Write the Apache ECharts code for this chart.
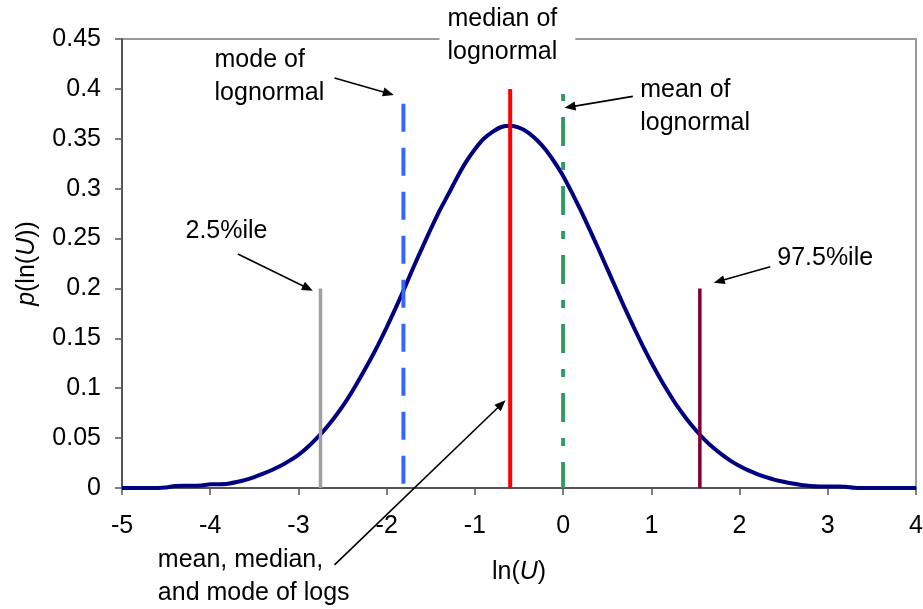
<!DOCTYPE html>
<html>
<head>
<meta charset="utf-8">
<title>Distribution of ln(U)</title>
<script src="https://cdn.jsdelivr.net/npm/echarts@6/dist/echarts.min.js"></script>
<style>
  html, body { margin: 0; padding: 0; background: #ffffff; }
  #chart { width: 923px; height: 609px; }
</style>
</head>
<body>
<div id="chart"></div>
<script>
// Density of ln(U), sampled every 0.1
const lnU = [
  -5.0, -4.9, -4.8, -4.7, -4.6, -4.5, -4.4, -4.3, -4.2, -4.1,
  -4.0, -3.9, -3.8, -3.7, -3.6, -3.5, -3.4, -3.3, -3.2, -3.1,
  -3.0, -2.9, -2.8, -2.7, -2.6, -2.5, -2.4, -2.3, -2.2, -2.1,
  -2.0, -1.9, -1.8, -1.7, -1.6, -1.5, -1.4, -1.3, -1.2, -1.1,
  -1.0, -0.9, -0.8, -0.7, -0.6, -0.5, -0.4, -0.3, -0.2, -0.1,
   0.0,  0.1,  0.2,  0.3,  0.4,  0.5,  0.6,  0.7,  0.8,  0.9,
   1.0,  1.1,  1.2,  1.3,  1.4,  1.5,  1.6,  1.7,  1.8,  1.9,
   2.0,  2.1,  2.2,  2.3,  2.4,  2.5,  2.6,  2.7,  2.8,  2.9,
   3.0,  3.1,  3.2,  3.3,  3.4,  3.5,  3.6,  3.7,  3.8,  3.9,
   4.0
];
const density = [
  0, 0, 0, 0, 0, 0.0004, 0.0020, 0.0022, 0.0022, 0.0026,
  0.0037, 0.0038, 0.0043, 0.0060, 0.0082, 0.0110, 0.0143, 0.0180, 0.0222, 0.0274,
  0.0333, 0.0406, 0.0492, 0.0588, 0.0697, 0.0818, 0.0955, 0.1105, 0.1262, 0.1430,
  0.1610, 0.1800, 0.1998, 0.2205, 0.2402, 0.2596, 0.2780, 0.2945, 0.3115, 0.3268,
  0.3395, 0.3500, 0.3570, 0.3618, 0.3630, 0.3612, 0.3565, 0.3490, 0.3392, 0.3268,
  0.3128, 0.2960, 0.2782, 0.2592, 0.2398, 0.2198, 0.2000, 0.1802, 0.1612, 0.1430,
  0.1258, 0.1098, 0.0950, 0.0812, 0.0692, 0.0584, 0.0488, 0.0405, 0.0334, 0.0272,
  0.0220, 0.0176, 0.0140, 0.0108, 0.0082, 0.0062, 0.0045, 0.0031, 0.0021, 0.0016,
  0.0016, 0.0015, 0.0013, 0.0002, 0, 0, 0, 0, 0, 0,
  0
];

// Reference lines: position on ln(U) and height of each line
const markerNames = ['2.5%ile', 'mode of lognormal', 'median of lognormal', 'mean of lognormal', '97.5%ile'];
const markerX = [-2.75, -1.81, -0.6, 0.0, 1.55];
const markerTop = [0.2, 0.385, 0.4, 0.395, 0.2];

// Axis ranges and ticks
const xMin = -5, xMax = 4, xStep = 1;
const yMin = 0, yMax = 0.45, yStep = 0.05;

const FONT = '"Liberation Sans", Arial, Helvetica, sans-serif';
const FS = 25;

const markerStyles = [
  { color: '#a0a0a0', width: 3.5, type: 'solid' },
  { color: '#3366ff', width: 4, type: [28, 16] },
  { color: '#ff0000', width: 4, type: 'solid' },
  { color: '#339966', width: 4, type: [29, 16, 8, 16], dashOffset: 46 },
  { color: '#800033', width: 3.5, type: 'solid' }
];

const chart = echarts.init(document.getElementById('chart'), null, { renderer: 'canvas' });

const curveSeries = {
  name: 'p(ln(U))',
  type: 'line',
  data: lnU.map((x, i) => [x, density[i]]),
  symbol: 'none',
  smooth: 0.2,
  z: 2,
  lineStyle: { color: '#000080', width: 4 },
  animation: false
};

const markerSeries = markerNames.map((name, i) => ({
  name: name,
  type: 'line',
  data: [[markerX[i], markerTop[i]], [markerX[i], 0]],
  symbol: 'none',
  z: 3,
  lineStyle: {
    color: markerStyles[i].color,
    width: markerStyles[i].width,
    type: markerStyles[i].type,
    dashOffset: markerStyles[i].dashOffset || 0,
    cap: 'butt'
  },
  animation: false
}));

const option = {
  backgroundColor: '#ffffff',
  animation: false,
  grid: {
    left: 122, right: 7, top: 39, bottom: 121,
    outerBoundsMode: 'none',
    containLabel: false,
    show: true, borderColor: '#999999', borderWidth: 2, backgroundColor: 'transparent'
  },
  xAxis: {
    type: 'value',
    min: xMin, max: xMax, interval: xStep,
    name: 'ln({i|U})',
    nameLocation: 'middle',
    nameGap: 72,
    nameTextStyle: {
      fontFamily: FONT, fontSize: FS, color: '#000',
      rich: { i: { fontFamily: FONT, fontSize: FS, fontStyle: 'italic', color: '#000' } }
    },
    axisLine: { onZero: false, lineStyle: { color: '#555555', width: 2 } },
    axisTick: { show: true, inside: false, length: 7, lineStyle: { color: '#555555', width: 1.5 } },
    axisLabel: { fontFamily: FONT, fontSize: FS, color: '#000', margin: 26, hideOverlap: false },
    splitLine: { show: false }
  },
  yAxis: {
    type: 'value',
    min: yMin, max: yMax, interval: yStep,
    name: '{i|p}(ln({i|U}))',
    nameLocation: 'middle',
    nameRotate: 90,
    nameGap: 82,
    nameTextStyle: {
      fontFamily: FONT, fontSize: FS, color: '#000',
      rich: { i: { fontFamily: FONT, fontSize: FS, fontStyle: 'italic', color: '#000' } }
    },
    axisLine: { show: true, onZero: false, lineStyle: { color: '#555555', width: 2 } },
    axisTick: { show: true, inside: false, length: 7, lineStyle: { color: '#555555', width: 1.5 } },
    axisLabel: { fontFamily: FONT, fontSize: FS, color: '#000', margin: 21 },
    splitLine: { show: false }
  },
  series: [curveSeries].concat(markerSeries)
};

chart.setOption(option);

// Callout texts and arrows, anchored in ln(U) / density units
const notes = [
  { text: 'mode of\nlognormal', at: [-3.951, 0.4455] },
  { text: 'median of\nlognormal', at: [-1.401, 0.4907], boxed: true },
  { text: 'mean of\nlognormal', at: [0.874, 0.4153] },
  { text: '2.5%ile', at: [-4.280, 0.2744] },
  { text: '97.5%ile', at: [2.427, 0.2469] },
  { text: 'mean, median,\nand mode of logs', at: [-4.594, -0.0557] }
];
const arrows = [
  { from: [-2.591, 0.411], to: [-1.919, 0.394] },
  { from: [0.790, 0.3925], to: [0.016, 0.381] },
  { from: [-3.687, 0.2345], to: [-2.837, 0.1977] },
  { from: [2.348, 0.2218], to: [1.708, 0.2057] },
  { from: [-2.591, -0.0771], to: [-0.653, 0.0879] }
];

function toPx(p) {
  return chart.convertToPixel({ gridIndex: 0 }, p);
}

const graphics = [];
notes.forEach(n => {
  const p = toPx(n.at);
  const style = {
    text: n.text,
    x: p[0], y: p[1],
    fontFamily: FONT, fontSize: FS,
    fill: '#000',
    align: 'left', verticalAlign: 'top',
    lineHeight: 33
  };
  if (n.boxed) {
    style.backgroundColor = '#ffffff';
    style.padding = [4, 18, 4, 8];
  }
  graphics.push({ type: 'text', z: 100, style: style, silent: true });
});

arrows.forEach(a => {
  const s = toPx(a.from), e = toPx(a.to);
  const dx = e[0] - s[0], dy = e[1] - s[1];
  const len = Math.sqrt(dx * dx + dy * dy);
  const ux = dx / len, uy = dy / len;
  const headLen = 11, headHalf = 4.5;
  const bx = e[0] - ux * headLen, by = e[1] - uy * headLen;
  graphics.push({
    type: 'line', z: 101, silent: true,
    shape: { x1: s[0], y1: s[1], x2: bx + ux * 2, y2: by + uy * 2 },
    style: { stroke: '#000', lineWidth: 1.6 }
  });
  graphics.push({
    type: 'polygon', z: 101, silent: true,
    shape: { points: [[e[0], e[1]], [bx - uy * headHalf, by + ux * headHalf], [bx + uy * headHalf, by - ux * headHalf]] },
    style: { fill: '#000' }
  });
});

chart.setOption({ graphic: graphics });
</script>
</body>
</html>
